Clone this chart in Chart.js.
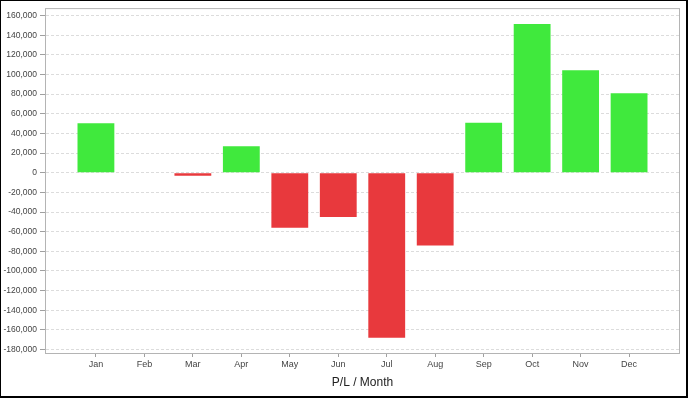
<!DOCTYPE html>
<html>
<head>
<meta charset="utf-8">
<script src="https://cdn.jsdelivr.net/npm/chart.js@4"></script>
<style>
  html, body { margin: 0; padding: 0; background: #fff; }
  #wrap { width: 688px; height: 398px; position: relative; }
</style>
</head>
<body>
<div id="wrap"><canvas id="pl"></canvas></div>
<script>
// monthly P/L values
const months = ["Jan", "Feb", "Mar", "Apr", "May", "Jun", "Jul", "Aug", "Sep", "Oct", "Nov", "Dec"];
const profit = [50500, 600, -3000, 27000, -56000, -45000, -168000, -74000, 51000, 151500, 104300, 81000];
const yTicks = [-180000, -160000, -140000, -120000, -100000, -80000, -60000, -40000, -20000,
                0, 20000, 40000, 60000, 80000, 100000, 120000, 140000, 160000];

const GREEN = "rgb(64, 233, 61)";
const RED = "rgb(232, 57, 61)";

// frame: outer black border + grey plot box
const framePlugin = {
  id: "frame",
  afterDraw(chart) {
    const ctx = chart.ctx;
    const a = chart.chartArea;
    ctx.save();
    ctx.strokeStyle = "#b4b4b4";
    ctx.lineWidth = 1;
    ctx.strokeRect(a.left - 0.5, a.top + 0.5, a.right - a.left + 1, a.bottom - a.top);
    ctx.strokeStyle = "#000";
    ctx.lineWidth = 1;
    ctx.strokeRect(0.5, 0.5, chart.width - 2, chart.height - 2);
    ctx.fillStyle = "#000";
    ctx.fillRect(chart.width - 2, 0, 2, chart.height);
    ctx.fillRect(0, chart.height - 2, chart.width, 2);
    ctx.restore();
  }
};

new Chart(document.getElementById("pl").getContext("2d"), {
  type: "bar",
  data: {
    datasets: [{
      label: "P/L",
      data: profit.map((v, i) => ({ x: i + 1, y: v })),
      backgroundColor: profit.map(v => v >= 0 ? GREEN : RED),
      borderWidth: 0,
      barPercentage: 0.76,
      categoryPercentage: 1
    }]
  },
  options: {
    responsive: true,
    maintainAspectRatio: false,
    animation: false,
    layout: { padding: { top: 7, right: 9, left: 0, bottom: 0 } },
    plugins: {
      legend: { display: false },
      tooltip: { enabled: false }
    },
    scales: {
      x: {
        type: "linear",
        min: -0.03,
        max: 13.03,
        offset: false,
        afterBuildTicks: s => { s.ticks = months.map((m, i) => ({ value: i + 1 })); },
        afterFit: s => { s.height = 45; },
        border: { display: false },
        grid: { offset: false, drawOnChartArea: false, drawTicks: true, tickLength: 4, tickColor: "#a0a0a0" },
        ticks: {
          autoSkip: false,
          maxRotation: 0,
          padding: 2,
          color: "#444",
          font: { family: "'Liberation Sans', Arial, sans-serif", size: 9 },
          callback: v => months[v - 1] || ""
        },
        title: {
          display: true,
          text: "P/L / Month",
          color: "#222",
          font: { family: "'Liberation Sans', Arial, sans-serif", size: 12 },
          padding: { top: 0, bottom: 8 }
        }
      },
      y: {
        min: -183500,
        max: 167600,
        afterBuildTicks: s => { s.ticks = yTicks.map(v => ({ value: v })); },
        afterFit: s => { s.width = 46; },
        border: { display: false, dash: [3, 2] },
        grid: {
          color: "#dcdcdc",
          tickLength: 6,
          tickColor: "#a0a0a0",
          tickBorderDash: [1, 0]
        },
        ticks: {
          padding: 3,
          color: "#444",
          font: { family: "'Liberation Sans', Arial, sans-serif", size: 8.5 },
          callback: v => Number(v).toLocaleString("en-US")
        }
      }
    }
  },
  plugins: [framePlugin]
});
</script>
</body>
</html>
